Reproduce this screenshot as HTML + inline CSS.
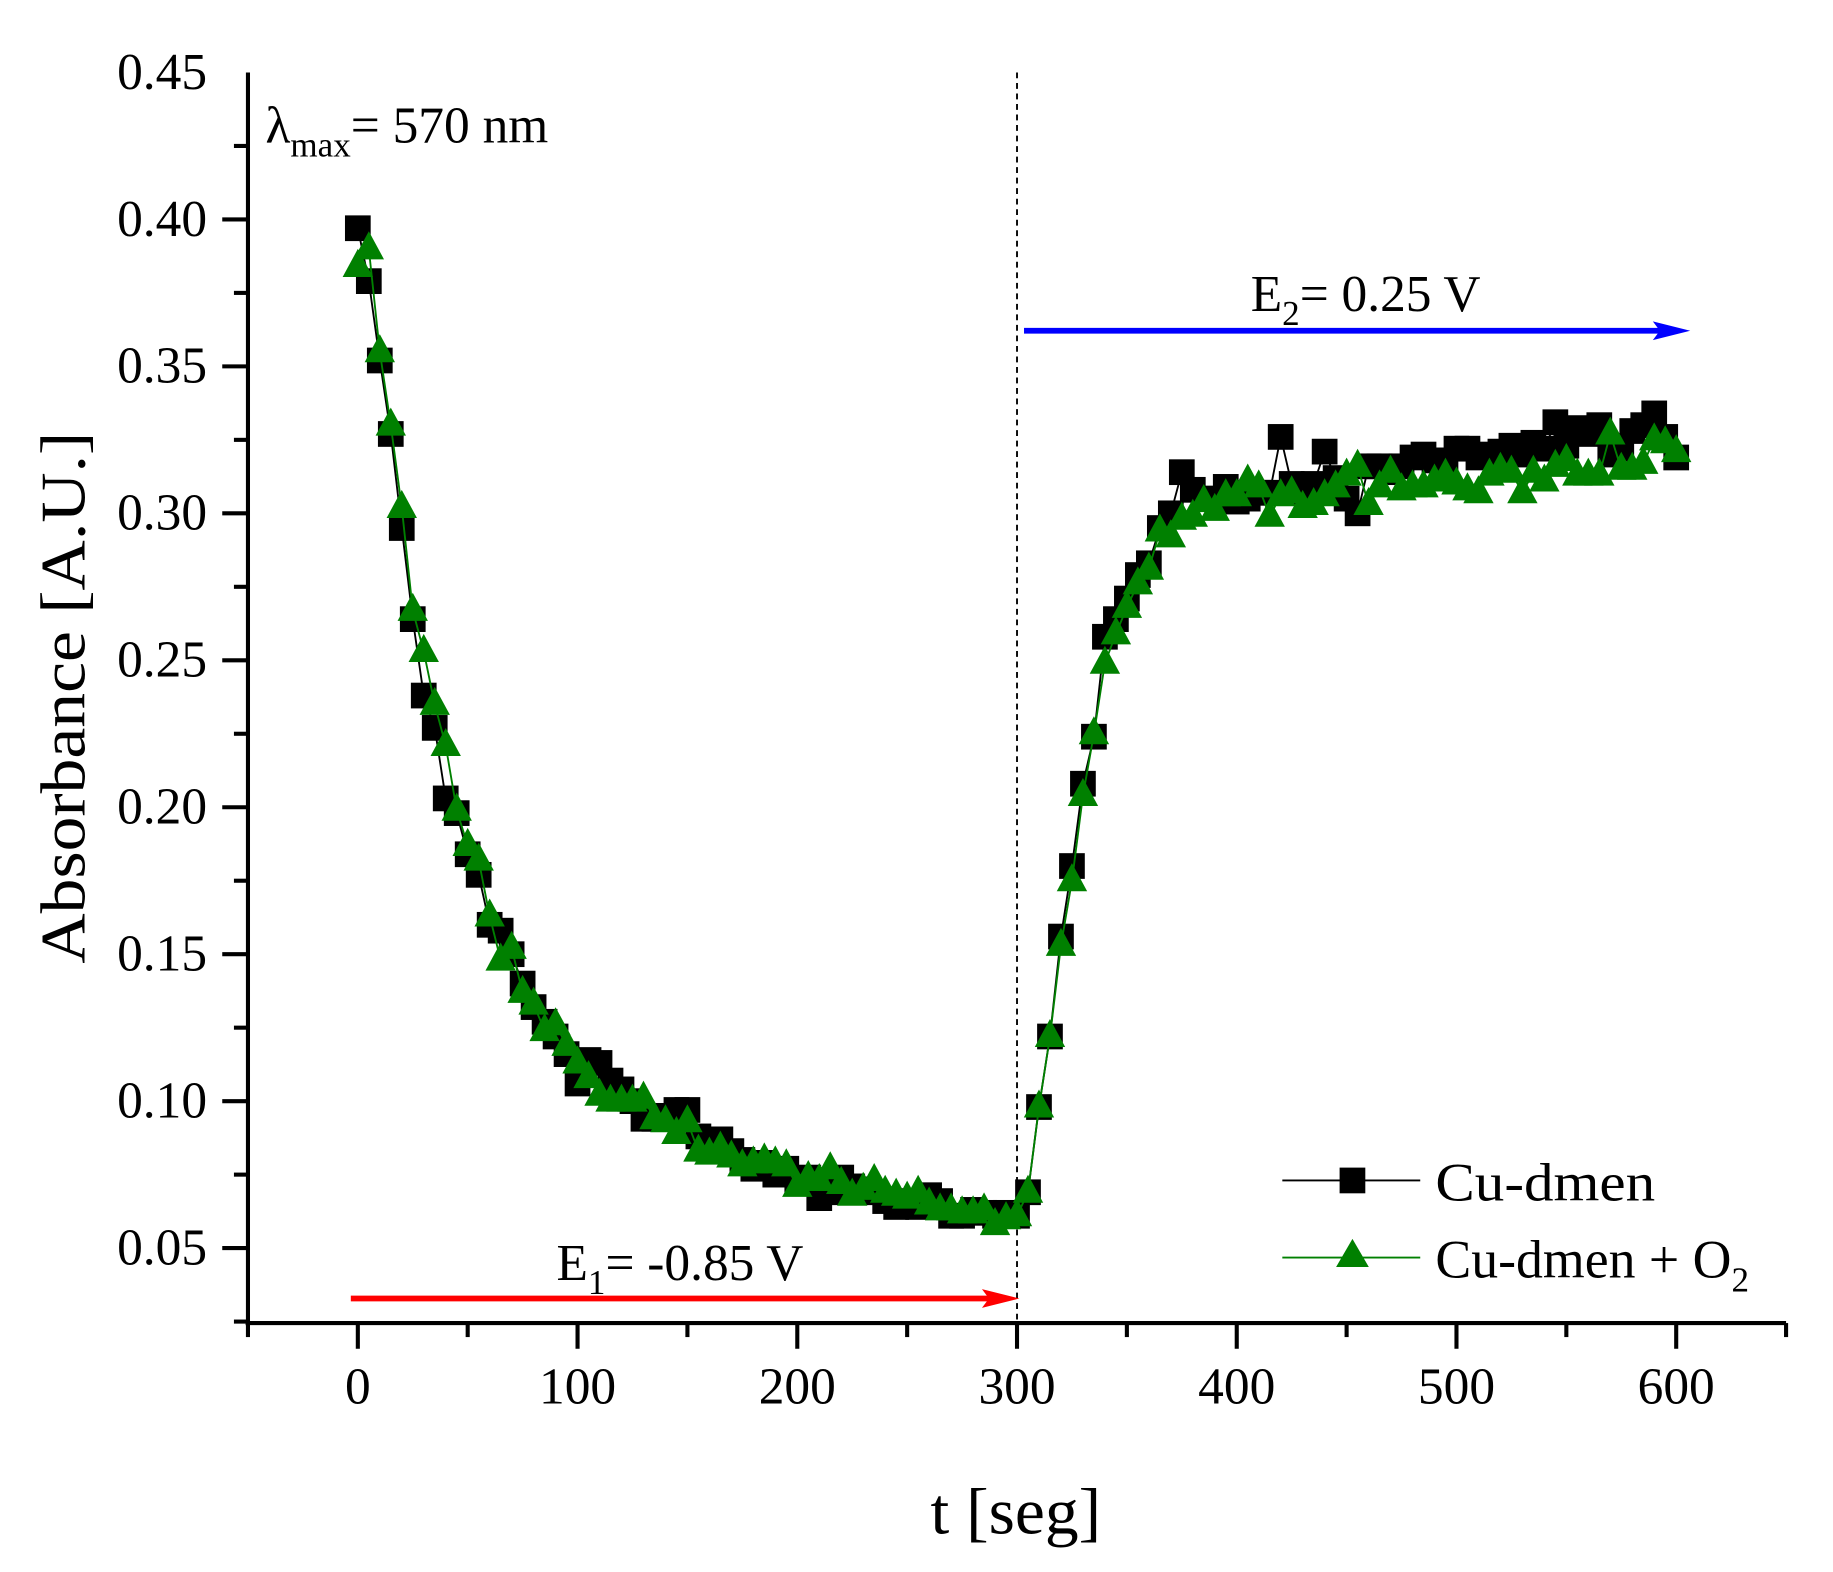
<!DOCTYPE html>
<html><head><meta charset="utf-8">
<style>
html,body{margin:0;padding:0;background:#fff;}
svg{display:block;font-family:"Liberation Serif",serif;}
</style></head>
<body>
<svg id="chart" width="1833" height="1572" viewBox="0 0 1568 1345" xmlns="http://www.w3.org/2000/svg">
<rect width="1568" height="1345" fill="#fff"/>
<g id="marks"></g>
<g id="axes"></g>
</svg>
<script>
const times = [];
for (let t = 0; t <= 600; t += 5) times.push(t);
const cuDmen = [0.397,0.379,0.352,0.327,0.295,0.264,0.238,0.227,0.203,0.198,0.184,0.177,0.160,0.158,0.150,0.140,0.132,0.127,0.122,0.116,0.106,0.114,0.113,0.107,0.104,0.100,0.094,0.094,0.095,0.097,0.097,0.088,0.087,0.087,0.083,0.080,0.077,0.079,0.075,0.077,0.073,0.074,0.067,0.069,0.074,0.071,0.070,0.069,0.066,0.064,0.066,0.064,0.068,0.066,0.061,0.061,0.063,0.062,0.061,0.062,0.061,0.069,0.098,0.122,0.156,0.180,0.208,0.224,0.258,0.264,0.271,0.279,0.283,0.295,0.300,0.314,0.308,0.305,0.305,0.309,0.304,0.305,0.307,0.307,0.326,0.310,0.307,0.310,0.321,0.312,0.305,0.300,0.316,0.316,0.314,0.316,0.319,0.320,0.318,0.318,0.322,0.322,0.319,0.320,0.321,0.323,0.320,0.324,0.322,0.331,0.323,0.329,0.327,0.330,0.320,0.322,0.328,0.330,0.334,0.326,0.319];
const cuDmenO2 = [0.384,0.390,0.355,0.330,0.302,0.267,0.253,0.235,0.221,0.199,0.187,0.182,0.163,0.148,0.152,0.137,0.133,0.124,0.126,0.119,0.113,0.108,0.102,0.100,0.100,0.100,0.101,0.094,0.093,0.089,0.093,0.083,0.082,0.084,0.081,0.078,0.079,0.080,0.079,0.078,0.071,0.074,0.073,0.077,0.072,0.068,0.070,0.073,0.069,0.068,0.067,0.069,0.065,0.063,0.063,0.062,0.062,0.063,0.058,0.060,0.061,0.069,0.098,0.122,0.153,0.175,0.204,0.225,0.249,0.259,0.268,0.276,0.281,0.294,0.292,0.298,0.299,0.304,0.301,0.306,0.306,0.311,0.309,0.299,0.306,0.307,0.302,0.303,0.306,0.309,0.313,0.316,0.303,0.309,0.314,0.308,0.309,0.309,0.311,0.313,0.310,0.308,0.307,0.313,0.315,0.314,0.307,0.314,0.311,0.316,0.318,0.313,0.313,0.313,0.327,0.315,0.315,0.317,0.325,0.324,0.321];
const xTicks = [0,100,200,300,400,500,600];
const yTicks = [0.05,0.10,0.15,0.20,0.25,0.30,0.35,0.40,0.45];

const NS = "http://www.w3.org/2000/svg";
const X0 = 212, X1 = 1528, Y0 = 1132, Y1 = 62;
const xMin = -50, xMax = 650, yMin = 0.0245, yMax = 0.45;
function sx(v){ return X0 + (v - xMin) / (xMax - xMin) * (X1 - X0); }
function sy(v){ return Y0 - (v - yMin) / (yMax - yMin) * (Y0 - Y1); }
function mk(tag, attrs, parent, text){
  const e = document.createElementNS(NS, tag);
  for (const k in attrs) e.setAttribute(k, attrs[k]);
  if (text !== undefined) e.textContent = text;
  parent.appendChild(e); return e;
}
const marks = document.getElementById('marks');
const axes = document.getElementById('axes');

let dl = mk('line',{x1:sx(300),x2:sx(300),y1:Y1,y2:Y0,stroke:'#000','stroke-width':1.6,'stroke-dasharray':'5,4'},marks);



function poly(vals, color, name){
  const p = mk('polyline',{points:times.map((t,i)=>sx(t)+','+sy(vals[i])).join(' '),fill:'none',stroke:color,'stroke-width':1.6},marks);
  
  
}
poly(cuDmen,'#000','cu-dmen-line');
times.forEach((t,i)=>{
  const r = mk('rect',{x:sx(t)-11,y:sy(cuDmen[i])-11,width:22,height:22,fill:'#000'},marks);
  
  
});
poly(cuDmenO2,'#008000','cu-dmen-o2-line');
times.forEach((t,i)=>{
  const x = sx(t), y = sy(cuDmenO2[i]);
  const tr = mk('polygon',{points:`${x},${y-15} ${x-13},${y+9} ${x+13},${y+9}`,fill:'#008000'},marks);
  
  
});

let ya = mk('line',{x1:X0,x2:X0,y1:Y1,y2:Y0+2,stroke:'#000','stroke-width':3.5},axes);


let xa = mk('line',{x1:X0-2,x2:X1,y1:Y0,y2:Y0,stroke:'#000','stroke-width':3.5},axes);


for (let v = -50; v <= 650; v += 50){
  const major = xTicks.includes(v);
  mk('line',{x1:sx(v),x2:sx(v),y1:Y0,y2:Y0+(major?22:12),stroke:'#000','stroke-width':3.5},axes);
}
xTicks.forEach(v=>{
  const t = mk('text',{x:sx(v),y:1201,'font-size':44,'text-anchor':'middle'},axes,String(v));
  
  
});
for (let k = 1; k <= 17; k++){
  const v = 0.025*k; if (v < yMin) continue;
  const major = k % 2 === 0;
  mk('line',{x1:X0,x2:X0-(major?22:12),y1:sy(v),y2:sy(v),stroke:'#000','stroke-width':3.5},axes);
}
yTicks.forEach(v=>{
  const t = mk('text',{x:177,y:sy(v)+14,'font-size':44,'text-anchor':'end'},axes,v.toFixed(2));
  
  
});

function arrow(x1,x2,y,color,name){
  const g = mk('g',{},axes);
  
  
  mk('line',{x1:x1,x2:x2-20,y1:y,y2:y,stroke:color,'stroke-width':5},g);
  mk('polygon',{points:`${x2},${y} ${x2-32},${y-8} ${x2-26},${y} ${x2-32},${y+8}`,fill:color},g);
}
arrow(300,872,1111,'#ff0000','e1-arrow');
arrow(876,1446,283,'#0000ff','e2-arrow');
</script>
<svg style="position:absolute;left:0;top:0" width="1833" height="1572" viewBox="0 0 1568 1345" xmlns="http://www.w3.org/2000/svg" font-family="Liberation Serif, serif">
<text x="476" y="1095" font-size="44">E<tspan font-size="30" dy="12">1</tspan><tspan dy="-12">= -0.85 V</tspan></text>
<text x="1070" y="266" font-size="44">E<tspan font-size="30" dy="12">2</tspan><tspan dy="-12">= 0.25 V</tspan></text>
<text x="227" y="122" font-size="44">λ<tspan font-size="30" dy="12">max</tspan><tspan dy="-12">= 570 nm</tspan></text>
<text transform="translate(72,597) rotate(-90)" font-size="54" text-anchor="middle" textLength="455" lengthAdjust="spacingAndGlyphs">Absorbance [A.U.]</text>
<text x="869" y="1312" font-size="56" text-anchor="middle" textLength="146" lengthAdjust="spacingAndGlyphs">t [seg]</text>
<g>
  <g>
    <line x1="1097" x2="1215" y1="1010" y2="1010" stroke="#000" stroke-width="1.6"/>
    <rect x="1146" y="999" width="22" height="22" fill="#000"/>
    <text x="1228" y="1027" font-size="46" textLength="188" lengthAdjust="spacingAndGlyphs">Cu-dmen</text>
  </g>
  <g>
    <line x1="1097" x2="1215" y1="1076" y2="1076" stroke="#008000" stroke-width="1.6"/>
    <polygon points="1157,1060 1143,1084 1171,1084" fill="#008000"/>
    <text x="1228" y="1093" font-size="46">Cu-dmen + O<tspan font-size="30" dy="12">2</tspan></text>
  </g>
</g>
</svg>
</body></html>
